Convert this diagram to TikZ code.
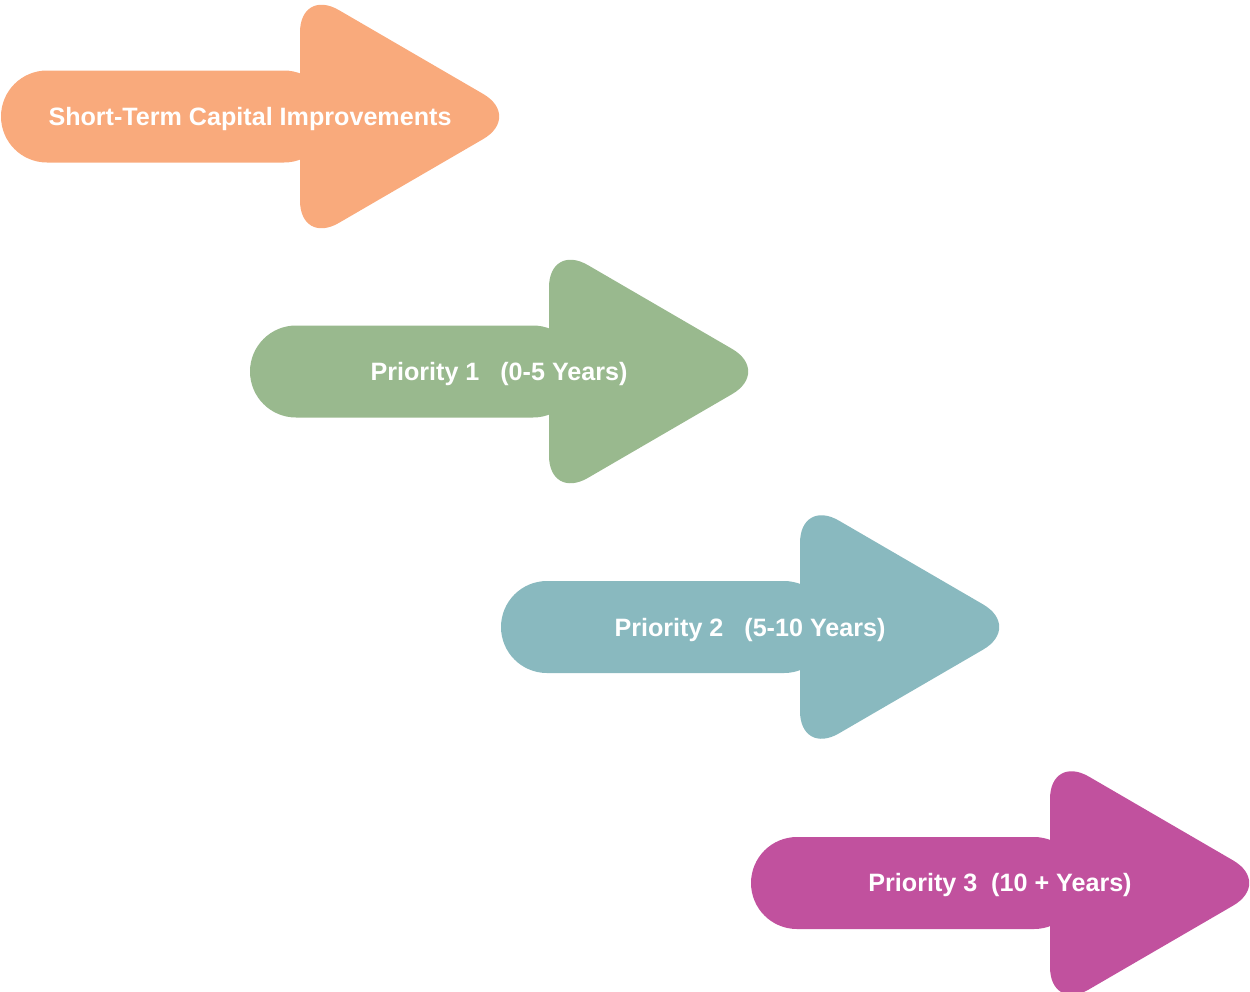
\documentclass[tikz,border=0pt]{standalone}
\usepackage{fontspec}
\setmainfont{Liberation Sans}
\usetikzlibrary{positioning}

\definecolor{shortcol}{HTML}{F9AA7C}
\definecolor{prioone}{HTML}{99B98E}
\definecolor{priotwo}{HTML}{89B9BF}
\definecolor{priothree}{HTML}{C1519E}

\tikzset{
  pics/bigarrow/.style={code={
    \fill[rounded corners=0.92cm] (1,-46) rectangle (330,46);
    \fill[rounded corners=0.9cm] (300,-129) -- (522,0) -- (300,129) -- cycle;
  }},
  arrowtext/.style={text=white,font=\bfseries\fontsize{14.3}{16}\selectfont,inner sep=0pt,anchor=base},
}

\begin{document}
\begin{tikzpicture}[x=0.02cm,y=-0.02cm]
    \clip (0,0) rectangle (1250,991);
    \useasboundingbox (0,0) rectangle (1250,991);
    % Arrows
    \pic[fill=shortcol] at (0,116.5) {bigarrow};
    \pic[fill=prioone] at (249,371.5) {bigarrow};
    \pic[fill=priotwo] at (500,627) {bigarrow};
    \pic[fill=priothree] at (750,883) {bigarrow};
    % Labels
    \node[arrowtext] (short) at (250,125.5) {Short-Term Capital Improvements};
    \node[arrowtext] (p1) at (499,380) {Priority 1~~~(0-5 Years)};
    \node[arrowtext] (p2) at (750,636) {Priority 2~~~(5-10 Years)};
    \node[arrowtext] (p3) at (1000,891.5) {Priority 3~~(10 + Years)};
\end{tikzpicture}
\end{document}
